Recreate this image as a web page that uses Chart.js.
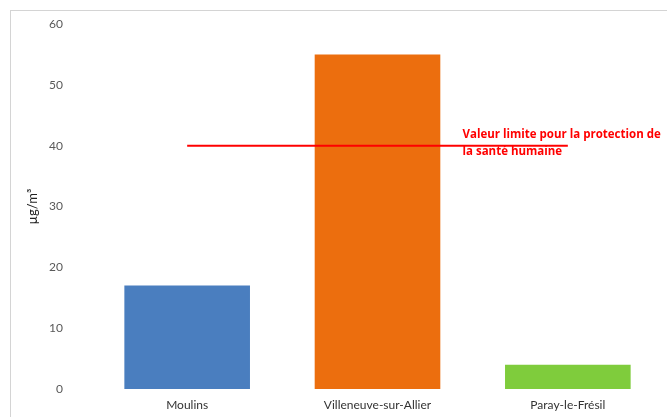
<!DOCTYPE html>
<html lang="fr">
<head>
    <meta charset="UTF-8">
    <title>Concentrations moyennes</title>
    <script src="https://cdn.jsdelivr.net/npm/chart.js"></script>
    <style>
        body {
            margin: 0;
            background: #fff;
        }
        .wrap {
            position: relative;
            width: 667px;
            height: 417px;
        }
        /* thin frame at the top and left of the chart */
        .frame {
            position: absolute;
            left: 10px;
            top: 10px;
            right: 0;
            bottom: 0;
            border-left: 1px solid #d4d4d4;
            border-top: 1px solid #d4d4d4;
        }
        canvas {
            position: absolute;
            left: 0;
            top: 0;
        }
    </style>
</head>
<body>
    <div class="wrap">
        <div class="frame"></div>
        <canvas id="chart" width="667" height="417"></canvas>
    </div>

    <script>
        // Stations and measured values (µg/m³)
        const stations = ['Moulins', 'Villeneuve-sur-Allier', 'Paray-le-Frésil'];
        const values = [17, 55, 4];
        const barColors = ['#4a7ebf', '#ec6e0e', '#7fcc3c'];

        // Limit value for human health protection
        const limitValue = 40;
        const limitLabel = ['Valeur limite pour la protection de', 'la santé humaine'];

        const yTicks = [0, 10, 20, 30, 40, 50, 60];

        // Writes the limit caption next to the red line
        const limitCaption = {
            id: 'limitCaption',
            afterDatasetsDraw(chart) {
                const { ctx, scales } = chart;
                const y = scales.y.getPixelForValue(limitValue);
                const x = scales.x.getPixelForValue(1) + 85;
                ctx.save();
                ctx.fillStyle = '#ff0000';
                ctx.font = 'bold 11.5px "Open Sans", sans-serif';
                ctx.textBaseline = 'middle';
                ctx.fillText(limitLabel[0], x, y - 11);
                ctx.fillText(limitLabel[1], x, y + 6);
                ctx.restore();
            }
        };

        const ctx = document.getElementById('chart').getContext('2d');
        new Chart(ctx, {
            data: {
                labels: stations,
                datasets: [
                    {
                        type: 'line',
                        data: stations.map(() => limitValue),
                        borderColor: '#ff0000',
                        borderWidth: 2,
                        pointRadius: 0,
                        order: 0
                    },
                    {
                        type: 'bar',
                        data: values,
                        backgroundColor: barColors,
                        categoryPercentage: 1,
                        barPercentage: 0.66,
                        order: 1
                    }
                ]
            },
            options: {
                responsive: false,
                animation: false,
                layout: {
                    padding: { top: 24, right: 4, bottom: 0, left: 0 }
                },
                plugins: {
                    legend: { display: false },
                    tooltip: { enabled: false }
                },
                scales: {
                    x: {
                        grid: { display: false, drawTicks: false },
                        border: { display: false },
                        ticks: {
                            color: '#333',
                            padding: 9,
                            font: { family: 'Lato', size: 12 }
                        },
                        afterFit(scale) { scale.height = 28; }
                    },
                    y: {
                        min: 0,
                        max: 60,
                        // hidden ticks only push the labels away from the bars
                        grid: { display: false, drawTicks: true, tickLength: 27 },
                        border: { display: false },
                        afterBuildTicks(scale) {
                            scale.ticks = yTicks.map(v => ({ value: v }));
                        },
                        ticks: {
                            color: '#595959',
                            padding: 2,
                            font: { family: 'Lato', size: 12 }
                        },
                        title: {
                            display: true,
                            text: 'µg/m³',
                            color: '#222',
                            padding: { top: 25, bottom: 0 },
                            font: { family: 'Lato', size: 13 }
                        },
                        afterFit(scale) { scale.width = 92; }
                    }
                }
            },
            plugins: [limitCaption]
        });
    </script>
</body>
</html>
